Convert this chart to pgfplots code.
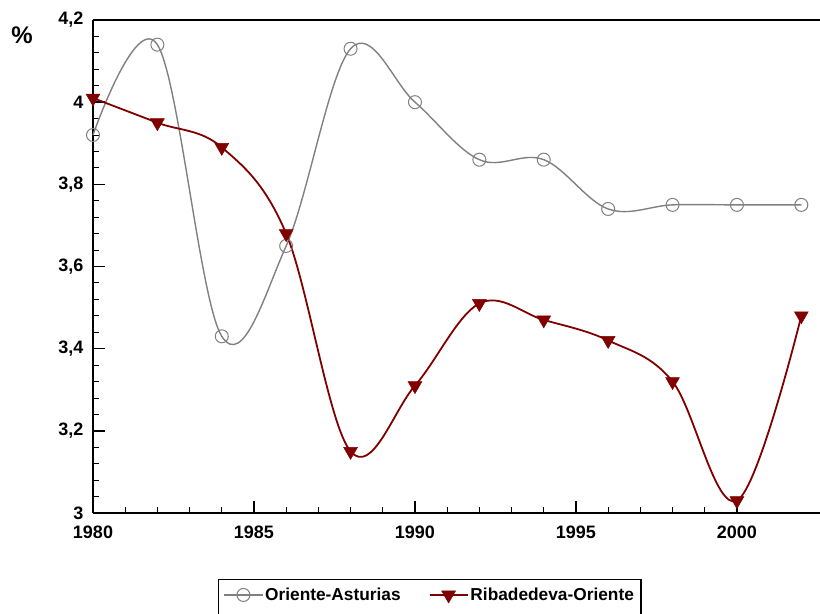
\documentclass[border=0pt]{standalone}
\usepackage{fontspec}
\setmainfont{Liberation Sans}
\usepackage{pgfplots}
\pgfplotsset{compat=1.18}
\definecolor{gr}{RGB}{128,128,128}
\definecolor{dr}{RGB}{128,0,0}
\begin{document}
\begin{tikzpicture}
\begin{axis}[name=ax, scale only axis, width=727pt, height=493pt,
  xmin=1980, xmax=2002.58, ymin=3, ymax=4.2,
  axis lines=left, axis line style={-, line width=2pt},
  xtick={1980,1985,1990,1995,2000}, minor x tick num=4,
  ytick={3,3.2,3.4,3.6,3.8,4,4.2}, minor y tick num=4,
  tick align=inside, major tick length=12pt, minor tick length=6pt,
  major tick style={black, line width=1.4pt},
  minor tick style={black, line width=0.9pt},
  ticklabel style={font=\fontsize{18}{21}\selectfont\bfseries},
  /pgf/number format/assume math mode=true,
  xticklabel style={/pgf/number format/1000 sep={}, yshift=-9pt},
  yticklabel style={/pgf/number format/.cd, use comma, 1000 sep={}, /tikz/.cd, xshift=-6pt},
  clip=false,
  legend columns=2,
  legend style={at={(0.172,0)}, anchor=north west, yshift=-66pt,
    draw=black, line width=1.4pt, font=\fontsize{17.3}{20}\selectfont\bfseries,
    inner xsep=5pt, inner ysep=6pt,
    nodes={text depth=14pt},
    /tikz/every even column/.append style={column sep=26pt}},
  legend image code/.code={\draw[yshift=6pt,mark repeat=2,mark phase=2] plot coordinates {(0pt,0pt)(19pt,0pt)(38pt,0pt)};},
]
\draw[line width=2pt] (rel axis cs:0,1) -- (rel axis cs:1,1);
\addplot[gr, line width=1.4pt, smooth, tension=0.6, mark=o, mark size=6.5pt, mark options={line width=1pt, gr}] coordinates {
(1980,3.92) (1982,4.14) (1984,3.43) (1986,3.65) (1988,4.13) (1990,4.00)
(1992,3.86) (1994,3.86) (1996,3.74) (1998,3.75) (2000,3.75) (2002,3.75)};
\addlegendentry{Oriente-Asturias}
\addplot[dr, line width=1.8pt, smooth, tension=0.6, mark=triangle*, mark size=8pt, mark options={rotate=180, dr, line width=0.5pt}] coordinates {
(1980,4.01) (1982,3.95) (1984,3.89) (1986,3.68) (1988,3.15) (1990,3.31)
(1992,3.51) (1994,3.47) (1996,3.42) (1998,3.32) (2000,3.03) (2002,3.48)};
\addlegendentry{Ribadedeva-Oriente}
\node[font=\fontsize{24}{28}\selectfont\bfseries] at ([xshift=-71pt,yshift=-15pt]rel axis cs:0,1) {\%};
\end{axis}
\pgfresetboundingbox
\path ([xshift=-93pt,yshift=-101pt]ax.south west) rectangle ([yshift=20pt]ax.north east);
\end{tikzpicture}
\end{document}
